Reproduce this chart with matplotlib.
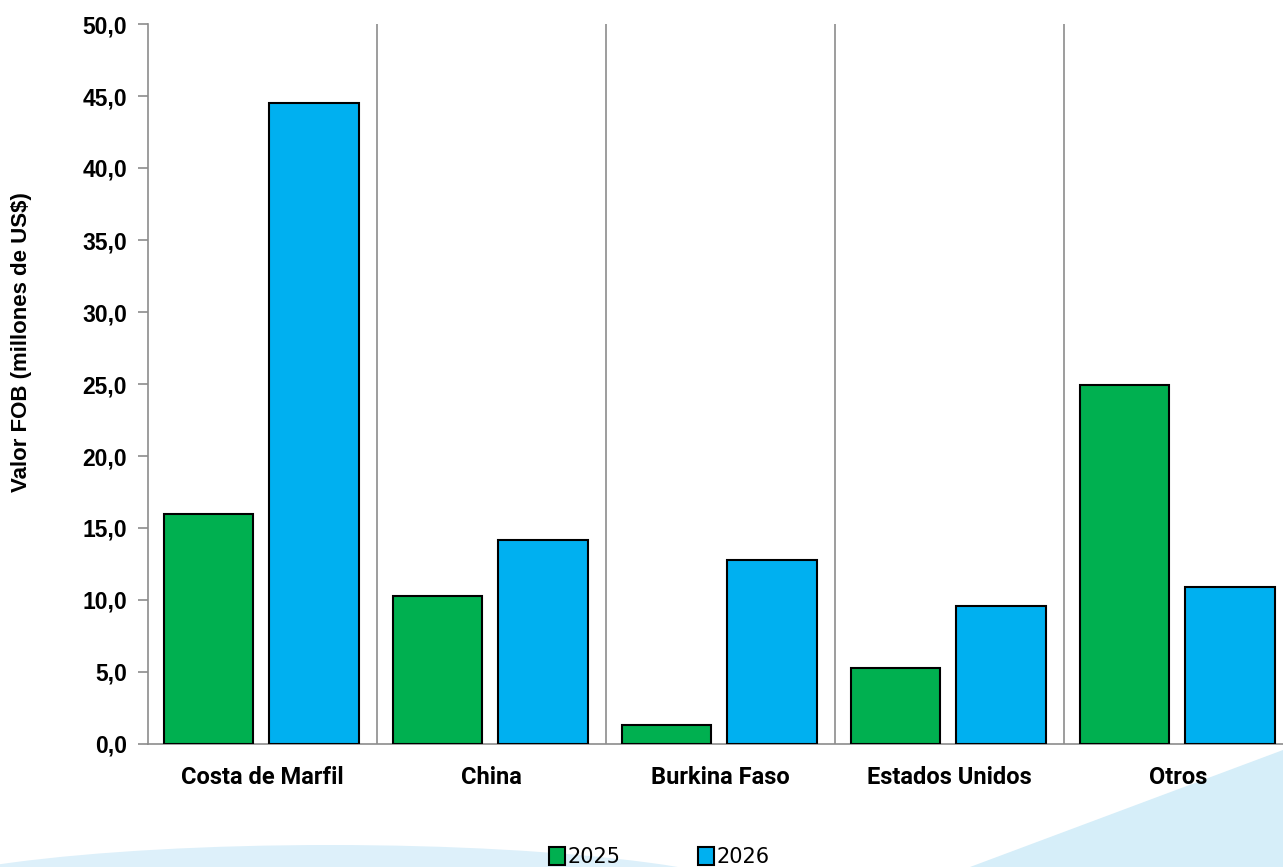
import matplotlib.pyplot as plt
from matplotlib.patches import Polygon, Ellipse
import numpy as np

# Data
categories = ["Costa de Marfil", "China", "Burkina Faso", "Estados Unidos", "Otros"]
years = ["2025", "2026"]
values_2025 = [16.0, 10.3, 1.3, 5.3, 24.9]
values_2026 = [44.5, 14.2, 12.8, 9.6, 10.9]
colors = ["#00B050", "#00B0F0"]

W, H = 1283, 867
fig = plt.figure(figsize=(W / 100, H / 100), dpi=100)

# decorative light-blue background waves (figure coords)
bg = fig.add_axes([0, 0, 1, 1], zorder=0)
bg.set_xlim(0, W)
bg.set_ylim(H, 0)
bg.axis("off")
bg.add_patch(Ellipse((330, 905), 900, 120, color="#DDF0FA", lw=0))
bg.add_patch(Polygon([(970, 867), (1283, 750), (1283, 867)], closed=True,
                     color="#D6EEF9", lw=0))

# main axes: left at x=148, right at image edge, y from 24 to 744
ax = fig.add_axes([148 / W, 1 - 744 / H, (W - 148) / W, (744 - 24) / H], zorder=1)
ax.patch.set_alpha(0)

x = np.arange(len(categories))
width = 0.39
ax.bar(x - 0.235, values_2025, width, color=colors[0], edgecolor="black",
       linewidth=1.5, label=years[0], zorder=3)
ax.bar(x + 0.225, values_2026, width, color=colors[1], edgecolor="black",
       linewidth=1.5, label=years[1], zorder=3)

# category separators
for b in x[:-1] + 0.5:
    ax.axvline(b, color="#8C8C8C", linewidth=1.2, zorder=1)

ax.set_xlim(-0.5, -0.5 + (W - 148) / 229)
ax.set_ylim(0, 50)
ticks = np.arange(0, 50.1, 5)
ax.set_yticks(ticks)
ax.set_yticklabels([f"{v:.1f}".replace(".", ",") for v in ticks],
                   fontsize=16.5, fontweight="bold", family="Liberation Sans")
ax.set_xticks(x)
ax.set_xticklabels(categories, fontsize=17, fontweight="bold", family="Roboto")
ax.tick_params(axis="x", length=0, pad=16)
ax.tick_params(axis="y", length=7, width=1.2, color="#8C8C8C", pad=8)

for s in ["top", "right"]:
    ax.spines[s].set_visible(False)
for s in ["left", "bottom"]:
    ax.spines[s].set_color("#8C8C8C")
    ax.spines[s].set_linewidth(1.2)

fig.text(22 / W, 1 - 342 / H, "Valor FOB (millones de US$)", rotation=90,
         ha="center", va="center", fontsize=16, fontweight="bold",
         family="Liberation Sans")

leg = fig.legend(loc="center", bbox_to_anchor=(0.514, 1 - 857 / H), ncol=2,
                 frameon=False, handlelength=0.75, handleheight=1.0,
                 handletextpad=0.15, columnspacing=3.7,
                 prop={"family": ["Liberation Sans Narrow", "DejaVu Sans"], "size": 15})
for h in leg.legend_handles:
    h.set_linewidth(1.5)

fig.savefig("out.png", dpi=100)
